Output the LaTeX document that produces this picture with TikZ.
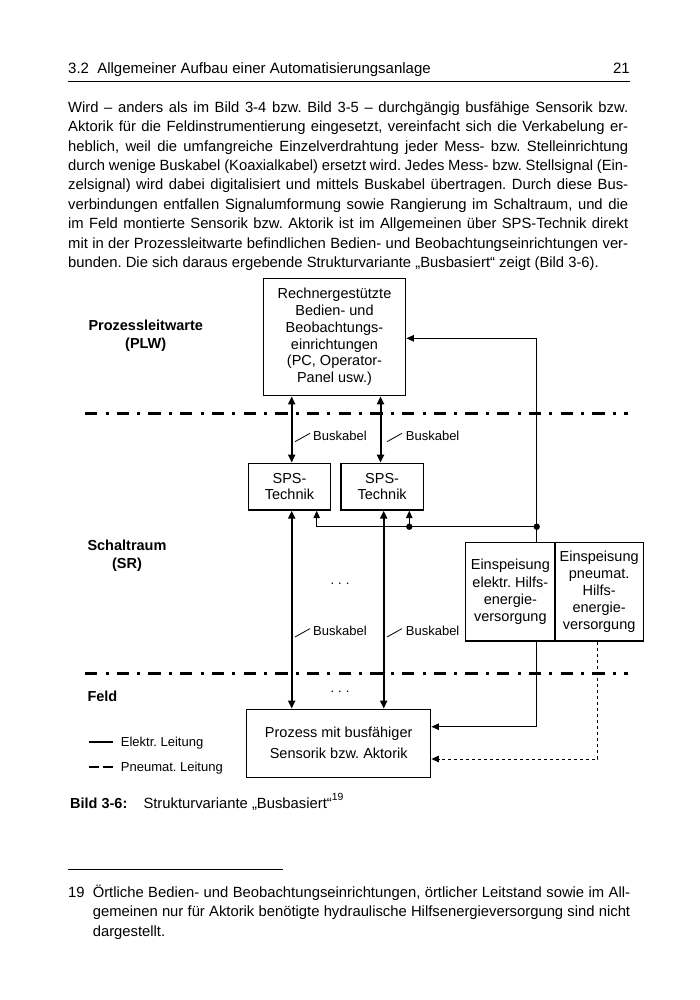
\documentclass[tikz,border=0pt]{standalone}
\usepackage{fontspec}
\setmainfont{Liberation Sans}
\usetikzlibrary{arrows.meta}
\frenchspacing
\tikzset{
  bodytxt/.style={font=\fontsize{14.8}{19.4}\selectfont, inner sep=0pt, anchor=base west},
  smalltxt/.style={font=\fontsize{13}{15}\selectfont, inner sep=0pt},
  boxnode/.style={draw, line width=1.4pt, align=center, inner sep=0pt},
  busline/.style={line width=2pt, {Triangle[length=8pt,width=7pt]}-{Triangle[length=8pt,width=7pt]}},
  feedline/.style={line width=1pt, -{Triangle[length=7.5pt,width=6.5pt]}},
  plainline/.style={line width=1pt},
  pneuline/.style={line width=1pt, dash pattern=on 3.5pt off 2.5pt, -{Triangle[length=7.5pt,width=6.5pt]}},
  zoneline/.style={line width=3pt, dash pattern=on 12.3pt off 8.2pt on 3pt off 8.2pt},
  zonelabel/.style={font=\bfseries\fontsize{14.5}{18.3}\selectfont, align=center, inner sep=0pt, anchor=west},
  legline/.style={line width=2.2pt},
}
\begin{document}
\frenchspacing
\begin{tikzpicture}[x=1pt,y=-1pt]
\fill[white] (0,0) rectangle (700,1000);
\useasboundingbox (0,0) rectangle (700,1000);

% header
\node[bodytxt, font=\fontsize{15}{19.4}\selectfont] (hdr) at (68,73.5) {3.2\hspace{0.55em}Allgemeiner Aufbau einer Automatisierungsanlage};
\node[bodytxt, font=\fontsize{15}{19.4}\selectfont, anchor=base east] (pg) at (630,73.5) {21};
\coordinate (hr1) at (68,81.5);
\coordinate (hr2) at (630,81.5);
\draw[line width=1pt] (hr1) -- (hr2);

% body text
\node[bodytxt] (l1) at (68,112.3) {\makebox[560pt][s]{Wird – anders als im Bild 3-4 bzw. Bild 3-5 – durchgängig busfähige Sensorik bzw.}};
\node[bodytxt] (l2) at (68,131.7) {\makebox[560pt][s]{Aktorik für die Feldinstrumentierung eingesetzt, vereinfacht sich die Verkabelung er-}};
\node[bodytxt] (l3) at (68,151.1) {\makebox[560pt][s]{heblich, weil die umfangreiche Einzelverdrahtung jeder Mess- bzw. Stelleinrichtung}};
\node[bodytxt] (l4) at (68,170.5) {\makebox[560pt][s]{durch wenige Buskabel (Koaxialkabel) ersetzt wird. Jedes Mess- bzw. Stellsignal (Ein-}};
\node[bodytxt] (l5) at (68,189.9) {\makebox[560pt][s]{zelsignal) wird dabei digitalisiert und mittels Buskabel übertragen. Durch diese Bus-}};
\node[bodytxt] (l6) at (68,209.3) {\makebox[560pt][s]{verbindungen entfallen Signalumformung sowie Rangierung im Schaltraum, und die}};
\node[bodytxt] (l7) at (68,228.7) {\makebox[560pt][s]{im Feld montierte Sensorik bzw. Aktorik ist im Allgemeinen über SPS-Technik direkt}};
\node[bodytxt] (l8) at (68,248.1) {\makebox[560pt][s]{mit in der Prozessleitwarte befindlichen Bedien- und Beobachtungseinrichtungen ver-}};
\node[bodytxt] (l9) at (68,267.5) {bunden. Die sich daraus ergebende Strukturvariante „Busbasiert“ zeigt (Bild 3-6).};

% zone lines
\coordinate (z1a) at (85,413.5);
\coordinate (z1b) at (628,413.5);
\coordinate (z2a) at (85,673.3);
\coordinate (z2b) at (628,673.3);
\draw[zoneline] (z1a) -- (z1b);
\draw[zoneline] (z2a) -- (z2b);

% zone labels
\node[zonelabel] (zplw) at (88.3,335.8) {Prozessleitwarte\\(PLW)};
\node[zonelabel] (zsr) at (87.3,555.9) {Schaltraum\\(SR)};
\node[zonelabel] (zfeld) at (87.3,696.7) {Feld};

% boxes
\node[boxnode, font=\fontsize{14.5}{16.8}\selectfont, minimum width=142.4pt, minimum height=117.4pt] (plw) at (334.5,337)
  {Rechnergestützte\\Bedien- und\\Beobachtungs-\\einrichtungen\\(PC, Operator-\\Panel usw.)};
\node[boxnode, font=\fontsize{14.5}{16.7}\selectfont, minimum width=82.4pt, minimum height=46.7pt] (sps1) at (289.5,486.65) {SPS-\\Technik};
\node[boxnode, font=\fontsize{14.5}{16.7}\selectfont, minimum width=82.3pt, minimum height=46.7pt] (sps2) at (382.15,486.65) {SPS-\\Technik};
\node[boxnode, font=\fontsize{14.5}{17.2}\selectfont, minimum width=89.3pt, minimum height=98.3pt] (ee) at (510.35,591.85)
  {Einspeisung\\elektr. Hilfs-\\energie-\\versorgung};
\node[boxnode, font=\fontsize{14.5}{17}\selectfont, minimum width=88.3pt, minimum height=98.3pt] (ep) at (599.15,591.85)
  {Einspeisung\\pneumat.\\Hilfs-\\energie-\\versorgung};
\node[boxnode, font=\fontsize{14.5}{21}\selectfont, minimum width=184pt, minimum height=68pt] (proc) at (338.7,743.3)
  {Prozess mit busfähiger\\Sensorik bzw. Aktorik};

% columns / rows
\coordinate (cA) at (291.7,0);
\coordinate (cB) at (380.5,0);
\coordinate (cB2) at (383.7,0);
\coordinate (cE) at (536.7,0);
\coordinate (cP) at (597.7,0);
\coordinate (rFB) at (0,338.3);
\coordinate (rE) at (0,726.7);
\coordinate (rP) at (0,759);
\coordinate (j0) at (316.7,526.7);
\coordinate (j1) at (409.3,526.7);
\coordinate (j2) at (536.7,526.7);

% bus connections
\draw[busline] (cA |- plw.south) -- (cA |- sps1.north);
\draw[busline] (cB |- plw.south) -- (cB |- sps2.north);
\draw[busline] (cA |- sps1.south) -- (cA |- proc.north);
\draw[busline] (cB2 |- sps2.south) -- (cB2 |- proc.north);

% auxiliary power
\draw[plainline] (j0) -- (j2);
\draw[feedline] (j0) -- (j0 |- sps1.south);
\draw[feedline] (j1) -- (j1 |- sps2.south);
\draw[feedline] (cE |- ee.north) -- (cE |- rFB) -- (plw.east |- rFB);
\fill (j1) circle (3.2pt);
\fill (j2) circle (3.2pt);
\draw[feedline] (cE |- ee.south) |- (proc.east |- rE);
\draw[pneuline] (cP |- ep.south) |- (proc.east |- rP);

% Buskabel labels
\coordinate (s1a) at (295,441.7); \coordinate (s1b) at (310,433.3);
\coordinate (s2a) at (387,441.7); \coordinate (s2b) at (402,433.3);
\coordinate (s3a) at (295,637);   \coordinate (s3b) at (310,628.6);
\coordinate (s4a) at (387,637);   \coordinate (s4b) at (402,628.6);
\draw[line width=0.8pt] (s1a) -- (s1b);
\draw[line width=0.8pt] (s2a) -- (s2b);
\draw[line width=0.8pt] (s3a) -- (s3b);
\draw[line width=0.8pt] (s4a) -- (s4b);
\node[smalltxt, anchor=base west] (bk1) at (313,440.2) {Buskabel};
\node[smalltxt, anchor=base west] (bk2) at (405.7,440.2) {Buskabel};
\node[smalltxt, anchor=base west] (bk3) at (313,635.5) {Buskabel};
\node[smalltxt, anchor=base west] (bk4) at (405.7,635.5) {Buskabel};

% dots
\node[smalltxt, anchor=base] (dots1) at (340,584.5) {.\hspace{4pt}.\hspace{4pt}.};
\node[smalltxt, anchor=base] (dots2) at (340,692) {.\hspace{4pt}.\hspace{4pt}.};

% legend
\coordinate (lg1a) at (89.3,741.7); \coordinate (lg1b) at (113.3,741.7);
\coordinate (lg2a) at (89.3,766.7); \coordinate (lg2b) at (99.3,766.7);
\coordinate (lg3a) at (103.3,766.7); \coordinate (lg3b) at (113.3,766.7);
\draw[legline] (lg1a) -- (lg1b);
\draw[legline] (lg2a) -- (lg2b);
\draw[legline] (lg3a) -- (lg3b);
\node[smalltxt, anchor=base west] (lgt1) at (120.7,746.2) {Elektr. Leitung};
\node[smalltxt, anchor=base west] (lgt2) at (120.7,771.2) {Pneumat. Leitung};

% caption
\node[bodytxt, font=\bfseries\fontsize{14.5}{19.4}\selectfont] (cap1) at (70,808.8) {Bild 3-6:};
\node[bodytxt] (cap2) at (143.3,808.8) {Strukturvariante „Busbasiert“\raisebox{8.5pt}{\fontsize{10.4}{12}\selectfont 19}};

% footnote
\coordinate (fr1) at (68,869.5); \coordinate (fr2) at (283,869.5);
\draw[line width=1pt] (fr1) -- (fr2);
\node[bodytxt] (fn0) at (68,897) {19};
\node[bodytxt] (fn1) at (92.6,897) {\makebox[537.4pt][s]{Örtliche Bedien- und Beobachtungseinrichtungen, örtlicher Leitstand sowie im All-}};
\node[bodytxt] (fn2) at (92.6,916.5) {\makebox[537.4pt][s]{gemeinen nur für Aktorik benötigte hydraulische Hilfsenergieversorgung sind nicht}};
\node[bodytxt] (fn3) at (92.6,936) {dargestellt.};
\end{tikzpicture}
\end{document}
